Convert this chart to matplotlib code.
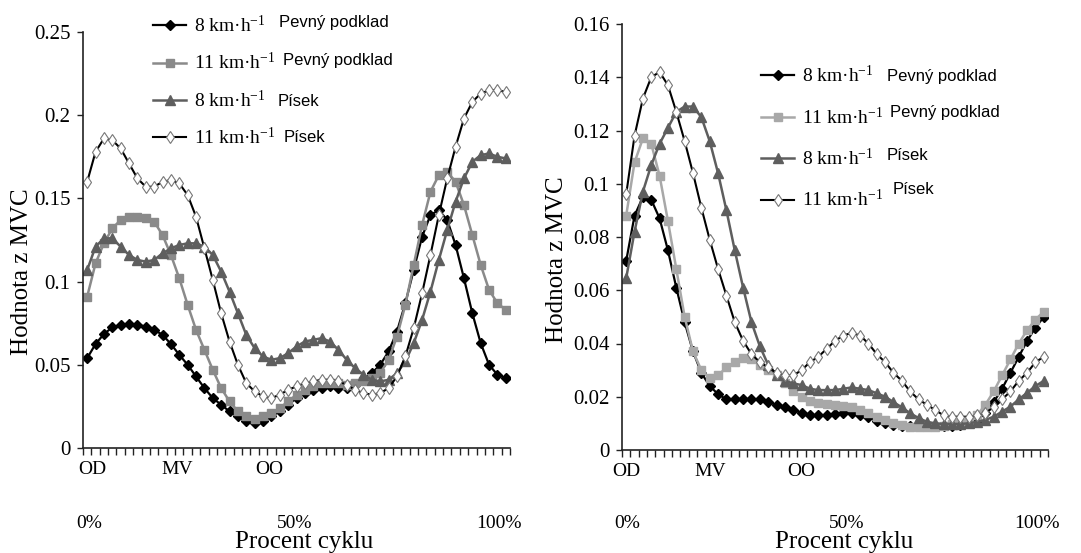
import matplotlib
matplotlib.use("Agg")
import matplotlib.pyplot as plt
import numpy as np
from matplotlib.ticker import FixedLocator, FuncFormatter

plt.rcParams["font.family"] = ["Liberation Serif", "DejaVu Serif"]
plt.rcParams["mathtext.fontset"] = "custom"
plt.rcParams["mathtext.rm"] = "Liberation Serif"
plt.rcParams["mathtext.it"] = "Liberation Serif:italic"

# procento cyklu, krok 2 %
cycle_pct = np.arange(0, 101, 2)

# levý graf
left_8_hard = [0.054, 0.0625, 0.0685, 0.0725, 0.074, 0.0743, 0.074, 0.073, 0.071, 0.068,
               0.0625, 0.056, 0.050, 0.043, 0.036, 0.030, 0.026, 0.022, 0.019, 0.016,
               0.015, 0.016, 0.019, 0.022, 0.026, 0.030, 0.033, 0.035, 0.036, 0.037,
               0.036, 0.036, 0.038, 0.041, 0.045, 0.050, 0.058, 0.070, 0.087, 0.107,
               0.127, 0.140, 0.143, 0.137, 0.122, 0.102, 0.081, 0.063, 0.050, 0.044, 0.042]
left_11_hard = [0.091, 0.111, 0.123, 0.132, 0.137, 0.139, 0.139, 0.138, 0.136, 0.128,
                0.116, 0.102, 0.086, 0.071, 0.059, 0.047, 0.036, 0.028, 0.022, 0.019,
                0.0175, 0.019, 0.021, 0.024, 0.028, 0.032, 0.035, 0.037, 0.039, 0.039,
                0.039, 0.038, 0.039, 0.040, 0.042, 0.045, 0.053, 0.067, 0.086, 0.110,
                0.134, 0.154, 0.164, 0.166, 0.160, 0.146, 0.128, 0.110, 0.095, 0.087, 0.083]
left_8_sand = [0.107, 0.121, 0.126, 0.126, 0.121, 0.116, 0.113, 0.112, 0.113, 0.117,
               0.120, 0.122, 0.123, 0.123, 0.121, 0.116, 0.106, 0.094, 0.081, 0.068,
               0.060, 0.055, 0.053, 0.054, 0.057, 0.061, 0.064, 0.065, 0.066, 0.064,
               0.059, 0.053, 0.048, 0.044, 0.041, 0.040, 0.041, 0.045, 0.052, 0.063,
               0.077, 0.094, 0.113, 0.131, 0.148, 0.162, 0.172, 0.176, 0.177, 0.175, 0.174]
left_11_sand = [0.160, 0.178, 0.186, 0.185, 0.180, 0.171, 0.162, 0.157, 0.157, 0.160,
                0.161, 0.159, 0.152, 0.139, 0.120, 0.101, 0.081, 0.064, 0.050, 0.039,
                0.034, 0.031, 0.030, 0.032, 0.035, 0.037, 0.039, 0.040, 0.041, 0.041,
                0.040, 0.038, 0.035, 0.033, 0.032, 0.033, 0.036, 0.043, 0.055, 0.072,
                0.093, 0.116, 0.140, 0.162, 0.181, 0.198, 0.208, 0.213, 0.215, 0.215, 0.214]

# pravý graf
right_8_hard = [0.071, 0.088, 0.095, 0.094, 0.087, 0.075, 0.061, 0.048, 0.037, 0.029,
                0.024, 0.021, 0.019, 0.019, 0.019, 0.019, 0.019, 0.018, 0.017, 0.016,
                0.015, 0.014, 0.013, 0.013, 0.013, 0.0135, 0.014, 0.014, 0.013, 0.0125,
                0.011, 0.010, 0.0095, 0.009, 0.009, 0.009, 0.009, 0.009, 0.009, 0.009,
                0.0095, 0.010, 0.011, 0.014, 0.018, 0.023, 0.029, 0.035, 0.041, 0.046, 0.050]
right_11_hard = [0.088, 0.108, 0.117, 0.115, 0.103, 0.086, 0.068, 0.050, 0.037, 0.030,
                 0.027, 0.028, 0.031, 0.033, 0.0345, 0.034, 0.032, 0.030, 0.028, 0.025,
                 0.022, 0.020, 0.0185, 0.0178, 0.0172, 0.0168, 0.0165, 0.016, 0.015, 0.0138,
                 0.0125, 0.0113, 0.010, 0.0094, 0.0088, 0.0088, 0.0088, 0.0088, 0.0092, 0.0097,
                 0.010, 0.0108, 0.013, 0.017, 0.022, 0.028, 0.034, 0.040, 0.045, 0.049, 0.052]
right_8_sand = [0.0645, 0.082, 0.097, 0.107, 0.115, 0.121, 0.127, 0.129, 0.129, 0.125,
                0.116, 0.104, 0.090, 0.075, 0.061, 0.048, 0.039, 0.032, 0.028, 0.026,
                0.025, 0.0244, 0.023, 0.0225, 0.0225, 0.0225, 0.023, 0.0235, 0.023, 0.0225,
                0.0213, 0.020, 0.018, 0.016, 0.0138, 0.012, 0.0106, 0.010, 0.0098, 0.0098,
                0.0098, 0.010, 0.0106, 0.0113, 0.0125, 0.0144, 0.0163, 0.019, 0.0215, 0.024, 0.026]
right_11_sand = [0.096, 0.118, 0.132, 0.140, 0.142, 0.137, 0.127, 0.116, 0.104, 0.091,
                 0.079, 0.068, 0.058, 0.048, 0.041, 0.036, 0.033, 0.031, 0.029, 0.028,
                 0.028, 0.030, 0.033, 0.035, 0.038, 0.041, 0.043, 0.044, 0.043, 0.040,
                 0.036, 0.033, 0.029, 0.026, 0.022, 0.019, 0.017, 0.015, 0.013, 0.0125,
                 0.0125, 0.0125, 0.013, 0.014, 0.016, 0.019, 0.022, 0.026, 0.029, 0.033, 0.035]

speed_labels = ["8 km·h$^{-1}$", "11 km·h$^{-1}$", "8 km·h$^{-1}$", "11 km·h$^{-1}$"]
surface_labels = ["Pevný podklad", "Pevný podklad", "Písek", "Písek"]
phase_labels = ["OD", "MV", "OO"]
pct_labels = ["0%", "50%", "100%"]

W, H = 1081, 553


def fx(x):
    return x / W


def fy(y):
    return 1 - y / H


fig = plt.figure(figsize=(W / 100, H / 100), dpi=100)
ax_l = fig.add_axes([fx(83), fy(448), (510 - 83) / W, (448 - 32) / H])
ax_r = fig.add_axes([fx(622), fy(450), (1048 - 622) / W, (450 - 24) / H])


def draw_panel(ax, s1, s2, s3, s4, gray_sq):
    ax.plot(cycle_pct, s1, color="black", lw=1.6, marker="D", ms=5,
            mfc="black", mec="black", label=speed_labels[0])
    ax.plot(cycle_pct, s2, color=gray_sq, lw=1.8, marker="s", ms=6.3,
            mfc=gray_sq, mec=gray_sq, label=speed_labels[1])
    ax.plot(cycle_pct, s3, color="#5e5e5e", lw=1.8, marker="^", ms=7.3,
            mfc="#5e5e5e", mec="#5e5e5e", label=speed_labels[2])
    ax.plot(cycle_pct, s4, color="black", lw=1.5, marker="d", ms=6.5,
            mfc="white", mec="#777777", mew=0.8, label=speed_labels[3])
    ax.set_xlim(-1, 101)
    for side in ("top", "right"):
        ax.spines[side].set_visible(False)
    for side in ("left", "bottom"):
        ax.spines[side].set_color("#222222")
        ax.spines[side].set_linewidth(1.2)
    ax.xaxis.set_minor_locator(FixedLocator(np.arange(-1, 102, 2)))
    ax.tick_params(axis="x", which="minor", direction="out", length=5, width=1, color="#222222")
    ax.tick_params(axis="x", which="major", length=0, labelsize=14, pad=9)
    ax.tick_params(axis="y", which="major", direction="out", length=4, width=1,
                   color="#222222", labelsize=15, pad=5)
    ax.yaxis.set_major_formatter(FuncFormatter(lambda v, p: f"{v:g}"))


draw_panel(ax_l, left_8_hard, left_11_hard, left_8_sand, left_11_sand, "#8a8a8a")
draw_panel(ax_r, right_8_hard, right_11_hard, right_8_sand, right_11_sand, "#a8a8a8")

ax_l.set_ylim(0, 0.25)
ax_l.set_yticks(np.arange(0, 0.2501, 0.05))
ax_l.set_xticks([1.2, 21.6, 43.6])
ax_l.set_xticklabels(phase_labels)

ax_r.set_ylim(0, 0.16)
ax_r.set_yticks(np.arange(0, 0.1601, 0.02))
ax_r.set_xticks([0, 20, 42])
ax_r.set_xticklabels(phase_labels)

# legendy
leg_l = ax_l.legend(loc="upper left", bbox_to_anchor=(fx(153), fy(15)),
                    bbox_transform=fig.transFigure, frameon=False, fontsize=14,
                    handlelength=1.7, handletextpad=0.4, labelspacing=0.83,
                    borderpad=0, borderaxespad=0)
leg_r = ax_r.legend(loc="upper left", bbox_to_anchor=(fx(761), fy(65)),
                    bbox_transform=fig.transFigure, frameon=False, fontsize=14,
                    handlelength=1.7, handletextpad=0.4, labelspacing=1.04,
                    borderpad=0, borderaxespad=0)

sans = ["Liberation Sans", "DejaVu Sans"]
for (x, y), t in zip([(279, 23), (283, 60), (278, 102), (284, 137)], surface_labels):
    fig.text(fx(x), fy(y), t, family=sans, fontsize=12, ha="left", va="center")
for (x, y), t in zip([(887, 77), (890, 112), (887, 155), (893, 190)], surface_labels):
    fig.text(fx(x), fy(y), t, family=sans, fontsize=12, ha="left", va="center")

for xs in ([89, 295, 499], [627, 847, 1037]):
    for x, t in zip(xs, pct_labels):
        fig.text(fx(x), fy(523), t, fontsize=14, ha="center", va="center")

fig.text(fx(304), fy(542), "Procent cyklu", fontsize=18, ha="center", va="center")
fig.text(fx(844), fy(542), "Procent cyklu", fontsize=18, ha="center", va="center")
fig.text(fx(22), fy(272), "Hodnota z MVC", fontsize=18, rotation=90, ha="center", va="center")
fig.text(fx(557), fy(260), "Hodnota z MVC", fontsize=18, rotation=90, ha="center", va="center")

fig.savefig("out.png", dpi=100, facecolor="white")
